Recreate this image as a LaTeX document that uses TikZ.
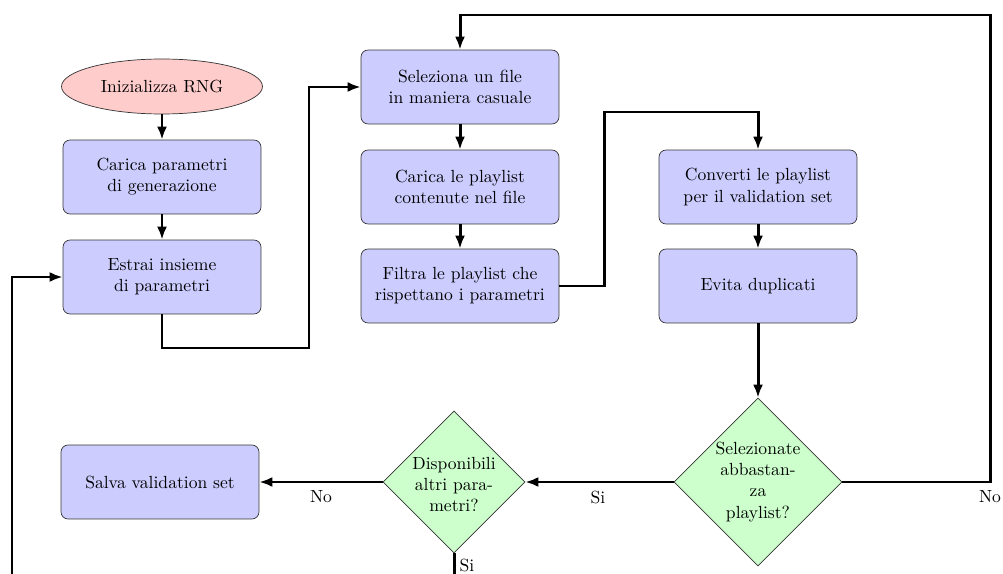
\documentclass[tikz,border=0pt]{standalone}
\usetikzlibrary{shapes.geometric,arrows.meta}
\begin{document}
\begin{tikzpicture}[x=0.02cm,y=-0.02cm,
  stepbox/.style={rectangle,rounded corners=4pt,draw=black!80,fill=blue!20,
    minimum width=3.96cm,minimum height=1.48cm,align=center,inner sep=2pt},
  startnode/.style={ellipse,draw=black!80,fill=red!20,minimum width=4.02cm,
    minimum height=1.1cm,inner sep=0pt},
  decision/.style={diamond,draw=black!80,fill=green!20,inner sep=0pt,aspect=1},
  dtext/.style={align=center,inner sep=0pt},
  arr/.style={line width=1.7pt,-{Latex[length=2.6mm,width=2mm]}},
  lbl/.style={inner sep=1pt}]
\useasboundingbox (0,0) rectangle (1003,574);
\clip (0,0) rectangle (1003,574);

% left column
\node[startnode] (init) at (162,86.5) {Inizializza RNG};
\node[stepbox] (carica) at (162,177) {Carica parametri\\di generazione};
\node[stepbox] (estrai) at (162,277) {Estrai insieme\\di parametri};
\node[stepbox] (salva) at (160,482) {Salva validation set};

% middle column
\node[stepbox] (selez) at (460,87) {Seleziona un file\\in maniera casuale};
\node[stepbox] (carpl) at (460,187) {Carica le playlist\\contenute nel file};
\node[stepbox] (filtra) at (460,286) {Filtra le playlist che\\rispettano i parametri};

% right column
\node[stepbox] (conv) at (758,187) {Converti le playlist\\per il validation set};
\node[stepbox] (evita) at (758,286) {Evita duplicati};

% decisions
\node[decision,minimum width=3.36cm,minimum height=3.36cm] (dsel) at (758,482) {};
\node[dtext] (tsel) at (dsel.center) {Selezionate\\abbastan-\\za\\playlist?};
\node[decision,minimum width=2.84cm,minimum height=2.84cm] (ddisp) at (454,482) {};
\node[dtext] (tdisp) at ([yshift=-0.05cm]ddisp.center) {Disponibili\\altri para-\\metri?};

% bend points of the connectors
\coordinate (c1) at (309,348);
\coordinate (c2) at (604,112);
\coordinate (c3) at (990,15);
\coordinate (c4) at (454,620);
\coordinate (c5) at (12,620);

% connectors
\draw[arr] (init) -- (carica);
\draw[arr] (carica) -- (estrai);
\draw[arr] (estrai.south) |- (c1) |- (selez.west);
\draw[arr] (selez) -- (carpl);
\draw[arr] (carpl) -- (filtra);
\draw[arr] (filtra.east) -| (c2) -| (conv.north);
\draw[arr] (conv) -- (evita);
\draw[arr] (evita) -- (dsel.north);
\draw[arr] (dsel.east) -| (c3) -| (selez.north);
\draw[arr] (dsel.west) -- (ddisp.east);
\draw[arr] (ddisp.west) -- (salva.east);
\draw[arr] (ddisp.south) -- (c4) -| (c5) |- (estrai.west);

% connector labels
\node[lbl] (lno1) at (990,497) {No};
\node[lbl] (lsi1) at (598,497) {Si};
\node[lbl] (lno2) at (321,497) {No};
\node[lbl] (lsi2) at (467,565) {Si};
\end{tikzpicture}
\end{document}
